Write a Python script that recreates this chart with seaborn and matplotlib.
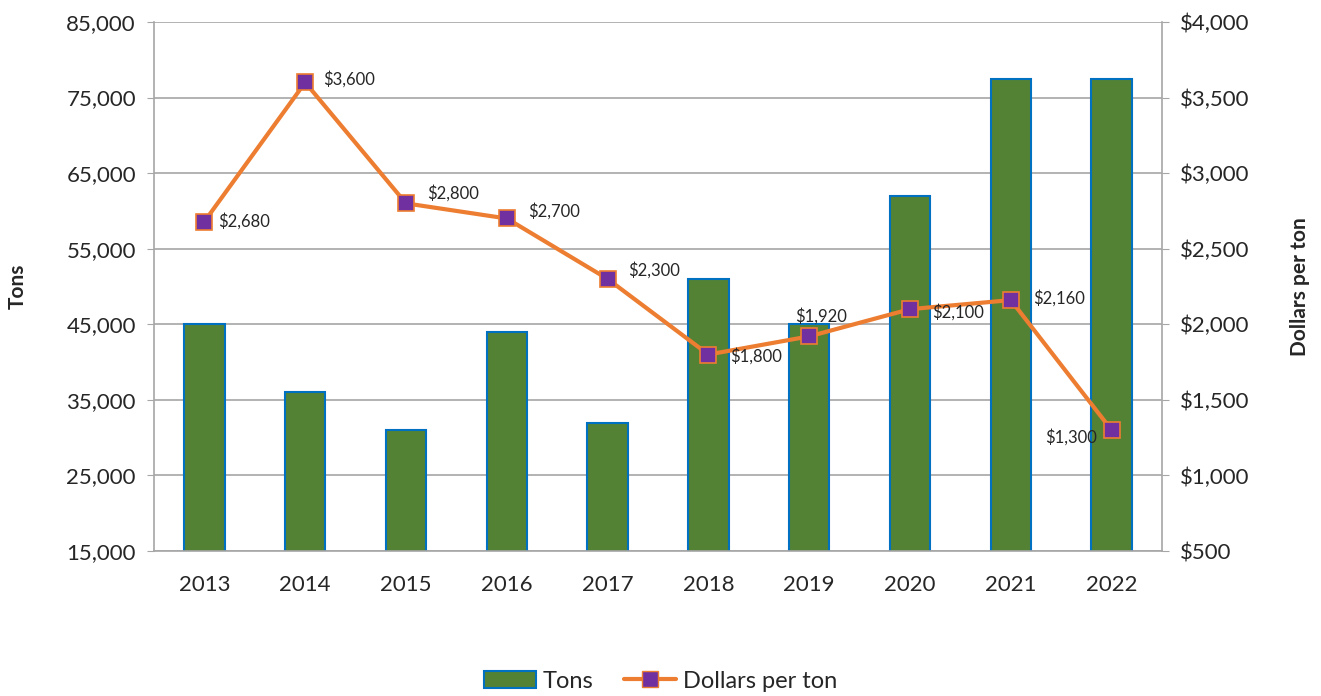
import numpy as np
import pandas as pd
import matplotlib
matplotlib.use("Agg")
import matplotlib.pyplot as plt
import seaborn as sns
from matplotlib.patches import Patch
from matplotlib.lines import Line2D
from matplotlib.ticker import FuncFormatter

# data
years = ["2013", "2014", "2015", "2016", "2017", "2018", "2019", "2020", "2021", "2022"]
tons = [45000, 36000, 31000, 44000, 32000, 51000, 45000, 62000, 77500, 77500]
dollars_per_ton = [2680, 3600, 2800, 2700, 2300, 1800, 1920, 2100, 2160, 1300]
price_labels = ["$2,680", "$3,600", "$2,800", "$2,700", "$2,300", "$1,800", "$1,920", "$2,100", "$2,160", "$1,300"]
tons_ticks = [15000, 25000, 35000, 45000, 55000, 65000, 75000, 85000]
price_ticks = [500, 1000, 1500, 2000, 2500, 3000, 3500, 4000]

df = pd.DataFrame({"year": years, "tons": tons, "price": dollars_per_ton})
df["pos"] = np.arange(len(df))

sns.set_style("white")
plt.rcParams["font.family"] = ["Lato", "DejaVu Sans"]

bar_fill = "#548235"
bar_edge = "#0070C0"
line_col = "#ED7D31"
marker_col = "#7030A0"
grid_col = "#A6A6A6"

fig = plt.figure(figsize=(13.21, 6.96), dpi=100)
ax = fig.add_axes([154 / 1321, 1 - 551 / 696, 1008 / 1321, 529 / 696])

sns.barplot(data=df, x="year", y="tons", ax=ax, color=bar_fill, width=0.4,
            edgecolor=bar_edge, linewidth=1.5, saturation=1, zorder=2)
ax.set_ylim(tons_ticks[0], tons_ticks[-1])
ax.set_yticks(tons_ticks)
ax.yaxis.set_major_formatter(FuncFormatter(lambda v, p: f"{v:,.0f}"))
ax.grid(axis="y", color=grid_col, linewidth=1.2, zorder=0)
ax.set_axisbelow(True)
ax.set_xlabel("")
ax.set_ylabel("Tons", fontsize=15, fontweight="bold")
ax.yaxis.set_label_coords(-0.125, 0.5)
ax.set_xlim(-0.5, len(years) - 0.5)
ax.set_xticks(np.arange(len(years)))
ax.set_xticklabels(years)
ax.set_xticks(np.arange(len(years) + 1) - 0.5, minor=True)
ax.tick_params(axis="x", which="major", length=0, labelsize=16, pad=17)
ax.tick_params(axis="x", which="minor", length=6, color=grid_col, direction="out")
ax.tick_params(axis="y", length=5, color=grid_col, labelsize=16, direction="out", pad=8)
for s in ["left", "right", "bottom"]:
    ax.spines[s].set_color(grid_col)
    ax.spines[s].set_linewidth(1.2)
ax.spines["top"].set_visible(False)

ax2 = ax.twinx()
sns.lineplot(data=df, x="pos", y="price", ax=ax2, color=line_col, linewidth=3,
             marker="s", markersize=11, markerfacecolor=marker_col,
             markeredgecolor=line_col, markeredgewidth=1.2, zorder=3)
ax2.set_ylim(price_ticks[0], price_ticks[-1])
ax2.set_yticks(price_ticks)
ax2.yaxis.set_major_formatter(FuncFormatter(lambda v, p: f"${v:,.0f}"))
ax2.set_ylabel("Dollars per ton", fontsize=15, fontweight="bold")
ax2.yaxis.set_label_coords(1.127, 0.5)
ax2.set_xlabel("")
ax2.tick_params(axis="y", length=5, color=grid_col, labelsize=16, direction="out", pad=8)
for s in ax2.spines.values():
    s.set_visible(False)

# data label offsets (pixels) and alignment
offsets = [(14, 0, "left"), (18, 3, "left"), (21, 10, "left"), (21, 7, "left"), (21, 9, "left"),
           (22, -2, "left"), (-14, 20, "left"), (22, -3, "left"), (22, 2, "left"), (-15, -7, "right")]
for i, (x, y) in enumerate(zip(df["pos"], df["price"])):
    dx, dy, ha = offsets[i]
    ax2.annotate(price_labels[i], (x, y), xytext=(dx, dy), textcoords="offset pixels",
                 fontsize=12, ha=ha, va="center")

handles = [Patch(facecolor=bar_fill, edgecolor=bar_edge, linewidth=1.5),
           Line2D([0], [0], color=line_col, linewidth=3, marker="s", markersize=11,
                  markerfacecolor=marker_col, markeredgecolor=line_col)]
fig.legend(handles, ["Tons", "Dollars per ton"], loc="center", bbox_to_anchor=(0.5, 1 - 681 / 696),
           ncol=2, frameon=False, fontsize=17, handlelength=2.2, handletextpad=0.3, columnspacing=1.3)

fig.savefig("out.png", dpi=100)
